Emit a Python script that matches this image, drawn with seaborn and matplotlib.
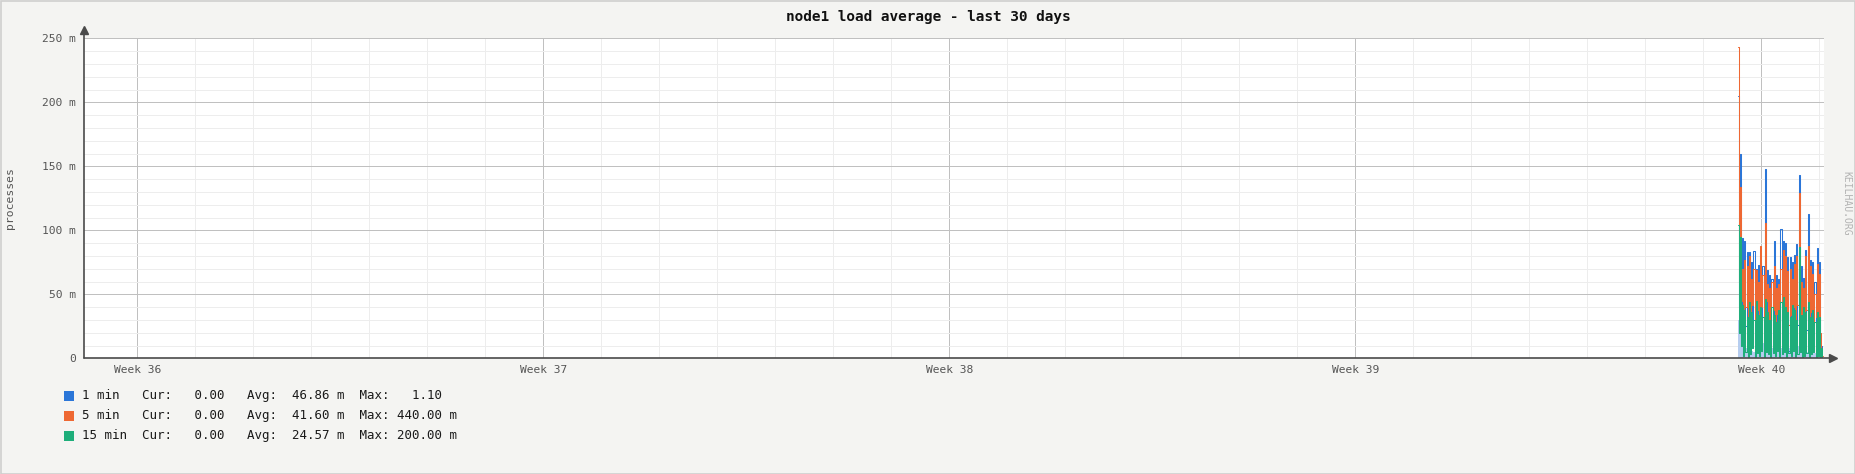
import numpy as np
import pandas as pd
import matplotlib
matplotlib.use("Agg")
import matplotlib.pyplot as plt
from matplotlib.patches import Rectangle
import seaborn as sns

# ---------------- data ----------------
series_names = ["1 min", "5 min", "15 min"]
series_colors = ["#2b76d8", "#ee6833", "#1eae7a"]
fill_color = "#b6cdef"

week_labels = ["Week 36", "Week 37", "Week 38", "Week 39", "Week 40"]
first_week_day = 0.919        # day offset of "Week 36" from the left edge
days_span = 30.0
data_start_day = 28.52
data_end_day = 29.98

y_ticks = [0, 50, 100, 150, 200, 250]
y_tick_labels = ["0", "50 m", "100 m", "150 m", "200 m", "250 m"]

# peak / trough values (milli-processes)
one_min_peaks = [205, 160, 94, 92, 83, 83, 75, 84, 70, 73, 75, 72, 148, 69, 65, 62, 92, 65, 62, 101,
                 92, 90, 79, 79, 75, 81, 89, 143, 72, 63, 85, 113, 77, 75, 60, 86, 75, 10]
one_min_troughs = [40, 20, 10, 25, 15, 8, 30, 12, 18, 6, 22, 10, 28, 14, 8, 20, 5, 16, 12, 24,
                   9, 18, 6, 14, 20, 8, 26, 10, 15, 5, 22, 12, 18, 6, 14, 8, 4, 0]
five_min_peaks = [243, 134, 70, 77, 72, 80, 62, 70, 69, 60, 88, 65, 106, 58, 55, 60, 72, 55, 58, 70,
                  85, 80, 68, 70, 62, 74, 80, 129, 60, 55, 80, 88, 72, 66, 50, 74, 66, 8]
five_min_troughs = [60, 45, 30, 40, 32, 35, 42, 28, 38, 25, 40, 30, 45, 30, 26, 38, 24, 35, 28, 40,
                    32, 36, 26, 34, 40, 28, 42, 30, 34, 24, 38, 30, 36, 26, 32, 28, 20, 2]
fifteen_min_peaks = [104, 95, 42, 38, 32, 44, 36, 30, 45, 34, 40, 32, 46, 36, 30, 40, 34, 28, 38, 44,
                     48, 40, 36, 32, 42, 38, 30, 87, 34, 40, 36, 44, 32, 38, 28, 36, 32, 8]
fifteen_min_troughs = [20, 10, 2, 5, 0, 3, 8, 0, 4, 2, 6, 0, 5, 3, 0, 4, 2, 6, 0, 3,
                       5, 0, 4, 2, 6, 0, 3, 5, 0, 2, 4, 0, 3, 5, 0, 2, 0, 0]
low_fill = [30, 20, 15, 10, 8, 12, 6, 5, 10, 8, 16, 12, 10, 6, 5, 8, 4, 6, 10, 8,
            5, 6, 4, 8, 12, 6, 14, 10, 6, 4, 8, 5, 10, 6, 4, 5, 3, 0]

legend_lines = [
    "1 min   Cur:   0.00   Avg:  46.86 m  Max:   1.10",
    "5 min   Cur:   0.00   Avg:  41.60 m  Max: 440.00 m",
    "15 min  Cur:   0.00   Avg:  24.57 m  Max: 200.00 m",
]

# ---------------- build table ----------------
def interleave(p, t):
    v = np.empty(len(p) * 2)
    v[0::2] = p
    v[1::2] = t
    return v

n_pts = len(one_min_peaks) * 2
times = np.linspace(data_start_day, data_end_day, n_pts)
frames = []
for name, pk, tr in zip(series_names,
                        [one_min_peaks, five_min_peaks, fifteen_min_peaks],
                        [one_min_troughs, five_min_troughs, fifteen_min_troughs]):
    frames.append(pd.DataFrame({"day": times, "value": interleave(pk, tr), "series": name}))
df = pd.concat(frames, ignore_index=True)

# ---------------- style ----------------
sns.set_theme(style="white")
plt.rcParams["font.family"] = ["DejaVu Sans Mono", "DejaVu Sans"]

W, H = 1856, 474
fig = plt.figure(figsize=(W / 100, H / 100), dpi=100, facecolor="#f4f4f2")
ax_l, ax_r, ax_b, ax_t = 84, 1824, 358.3, 38.3
ax = fig.add_axes([ax_l / W, 1 - ax_b / H, (ax_r - ax_l) / W, (ax_b - ax_t) / H])
ax.set_facecolor("white")

# light bottom fill
peak_times = times[0::2]
ax.fill_between(peak_times, 0, low_fill, step="mid", color=fill_color, lw=0, zorder=2)

sns.lineplot(data=df, x="day", y="value", hue="series", hue_order=series_names,
             palette=dict(zip(series_names, series_colors)), estimator=None, sort=False,
             linewidth=0.75, drawstyle="steps-mid", legend=False, ax=ax, zorder=3)

ax.set_xlim(0, days_span)
ax.set_ylim(0, 250)
ax.set_xlabel("")
ax.set_ylabel("processes", color="#555555", fontsize=8.2)
ax.yaxis.set_label_coords(-(ax_l - 15.5) / (ax_r - ax_l), 0.5)

week_pos = [first_week_day + 7 * i for i in range(len(week_labels))]
ax.set_xticks(week_pos)
ax.set_xticklabels(week_labels, color="#555555", fontsize=8.1)
ax.set_xticks([first_week_day + d for d in range(30)], minor=True)
ax.set_yticks(y_ticks)
ax.set_yticklabels(y_tick_labels, color="#555555", fontsize=8.1)
ax.set_yticks(np.arange(0, 251, 10), minor=True)
ax.tick_params(axis="both", which="both", length=0)
ax.tick_params(axis="y", pad=6)
ax.tick_params(axis="x", pad=5)

ax.grid(True, which="major", color="#c0c0c0", lw=0.72, zorder=0)
ax.grid(True, which="minor", color="#ededed", lw=0.72, zorder=0)
ax.set_axisbelow(True)
for s in ax.spines.values():
    s.set_visible(False)

# axis lines with arrows
axis_col = "#4a4a4a"
top_frac = (ax_b - 30) / (ax_b - ax_t)
right_frac = (1833 - ax_l) / (ax_r - ax_l)
ax.plot([0, 0], [0, top_frac], transform=ax.transAxes, color=axis_col, lw=1.2, clip_on=False, zorder=5)
ax.plot([0, right_frac], [0, 0], transform=ax.transAxes, color=axis_col, lw=1.2, clip_on=False, zorder=5)
ax.plot([0], [top_frac], transform=ax.transAxes, marker="^", ms=6, color=axis_col, clip_on=False, zorder=6)
ax.plot([right_frac], [0], transform=ax.transAxes, marker=">", ms=6, color=axis_col, clip_on=False, zorder=6)

# title
fig.text(0.5, 1 - 16.5 / H, "node1 load average - last 30 days", ha="center", va="center",
         fontsize=10.4, fontweight="bold", color="#111111")

# watermark
fig.text(1846.5 / W, 1 - 203 / H, "KEILHAU.ORG", rotation=270, ha="center", va="center",
         fontsize=7, color="#b3b3b3")

# legend
row_y = [396, 415.7, 435.7]
for name, col, txt, ry in zip(series_names, series_colors, legend_lines, row_y):
    fig.patches.append(Rectangle((64 / W, 1 - (ry + 5) / H), 10 / W, 10 / H,
                                 transform=fig.transFigure, facecolor=col, edgecolor="none"))
    fig.text(82 / W, 1 - ry / H, txt, ha="left", va="center", fontsize=9, color="#1a1a1a")

# figure border
fig.patches.append(Rectangle((0.5 / W, 0.5 / H), 1 - 1.5 / W, 1 - 1.5 / H, transform=fig.transFigure,
                             facecolor="none", edgecolor="#cfcfcf", lw=1.2))

fig.savefig("out.png", dpi=100, facecolor=fig.get_facecolor())
